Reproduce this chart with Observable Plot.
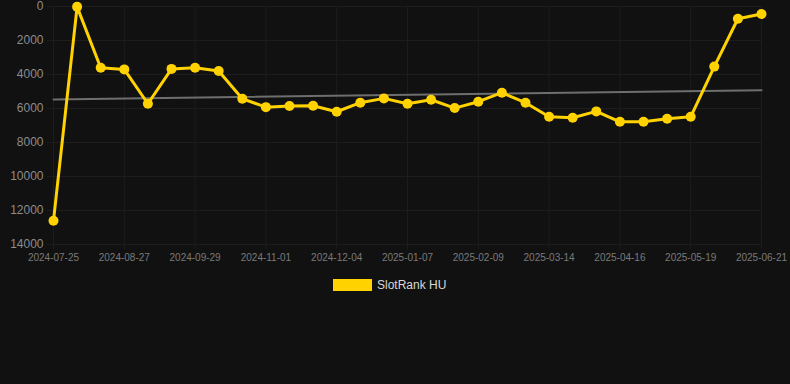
<!DOCTYPE html>
<html>
<head>
<meta charset="utf-8">
<script src="https://cdn.jsdelivr.net/npm/d3@7"></script>
<script src="https://cdn.jsdelivr.net/npm/@observablehq/plot@0.6"></script>
<style>
  html, body { margin: 0; padding: 0; background: #111111; }
  body { width: 790px; height: 384px; overflow: hidden; font-family: "Liberation Sans", Arial, Helvetica, sans-serif; }
  #chart svg { display: block; }
  .legend { display: flex; align-items: center; height: 14px; margin-top: 8px; padding-left: 333px; }
  .legend .swatch { width: 39px; height: 12px; background: #FFD200; }
  .legend .label { margin-left: 5px; font-size: 12px; color: #d8d8d8; }
</style>
</head>
<body>
<div id="chart"></div>
<div class="legend"><span class="swatch"></span><span class="label">SlotRank HU</span></div>
<script>
// Rank values (lower = better), one point per ~11 days
const rankValues = [12600, 20, 3600, 3700, 5720, 3670, 3600, 3790, 5425, 5920, 5850,
  5840, 6190, 5660, 5405, 5720, 5485, 5975, 5600, 5070, 5660,
  6490, 6545, 6170, 6780, 6780, 6600, 6490, 3535, 720, 443];
// Tick labels shown every third point
const tickLabels = ["2024-07-25", "2024-08-27", "2024-09-29", "2024-11-01", "2024-12-04",
  "2025-01-07", "2025-02-09", "2025-03-14", "2025-04-16", "2025-05-19", "2025-06-21"];
const yTicks = [0, 2000, 4000, 6000, 8000, 10000, 12000, 14000];

const data = rankValues.map((v, i) => ({i, v}));
const tickIdx = tickLabels.map((_, k) => k * 3);
const gridColor = "#1d1d1d";

const chart = Plot.plot({
  width: 790,
  height: 270,
  marginLeft: 53,
  marginRight: 29,
  marginTop: 6,
  marginBottom: 26,
  style: {background: "#111111", fontFamily: "Liberation Sans, Arial, sans-serif"},
  x: {domain: [0, rankValues.length - 1], ticks: tickIdx},
  y: {domain: [0, 14000], reverse: true, ticks: yTicks},
  marks: [
    Plot.gridY(yTicks, {stroke: gridColor, strokeOpacity: 1}),
    Plot.gridX(tickIdx, {stroke: gridColor, strokeOpacity: 1}),
    Plot.axisY(yTicks, {tickSize: 6, tickPadding: 4, stroke: gridColor, fill: "#8c8c8c", fontSize: 12, label: null,
      tickFormat: (d) => String(d)}),
    Plot.axisX(tickIdx, {tickSize: 5, tickPadding: 4, stroke: gridColor, fill: "#7a7a7a", fontSize: 10, label: null,
      tickFormat: (d) => tickLabels[d / 3]}),
    Plot.linearRegressionY(data, {x: "i", y: "v", stroke: "#6e6e6e", strokeWidth: 2, ci: 0}),
    Plot.line(data, {x: "i", y: "v", stroke: "#FFD200", strokeWidth: 3, curve: "linear"}),
    Plot.dot(data, {x: "i", y: "v", r: 5, fill: "#FFD200", stroke: null})
  ]
});
document.getElementById("chart").appendChild(chart);
</script>
</body>
</html>
